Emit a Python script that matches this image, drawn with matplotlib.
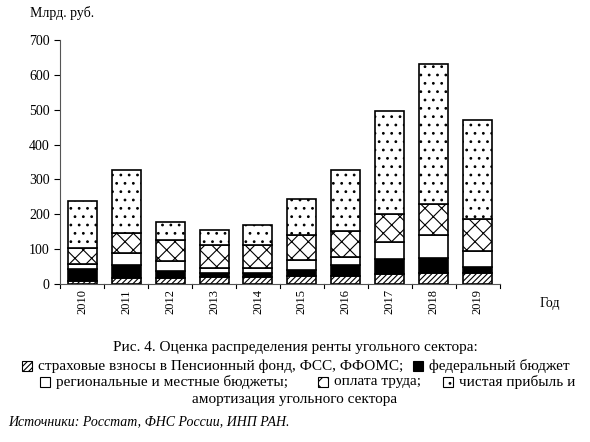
import matplotlib
matplotlib.use("Agg")
import matplotlib.pyplot as plt
from matplotlib.patches import Rectangle
import numpy as np

plt.rcParams['font.family'] = ['Liberation Serif', 'DejaVu Serif']
plt.rcParams['hatch.linewidth'] = 0.8

years = ['2010','2011','2012','2013','2014','2015','2016','2017','2018','2019']
insurance = [10, 19, 19, 22, 22, 24, 24, 28, 31, 31]
federal   = [33, 36, 19, 10, 10, 17, 31, 43, 44, 17]
regional  = [14, 34, 29, 15, 15, 29, 23, 51, 65, 48]
wages     = [46, 58, 60, 65, 65, 70, 74, 80, 90, 91]
profit    = [135, 179, 50, 44, 58, 105, 175, 293, 401, 282]

series = [insurance, federal, regional, wages, profit]
styles = [dict(facecolor='white', hatch='//////'),
          dict(facecolor='black', hatch=None),
          dict(facecolor='white', hatch=None),
          dict(facecolor='white', hatch='xx'),
          dict(facecolor='white', hatch='..')]

fig = plt.figure(figsize=(5.9, 4.42), dpi=100)
ax = fig.add_axes([0.102, 0.357, 0.745, 0.553])
x = np.arange(len(years))
bottom = np.zeros(len(years))
for vals, st in zip(series, styles):
    ax.bar(x, vals, bottom=bottom, width=0.66, edgecolor='black', linewidth=1.2, **st)
    bottom += np.array(vals)

ax.set_ylim(0, 700)
ax.set_yticks(range(0, 701, 100))
ax.set_xlim(-0.5, len(years) - 0.5)
ax.set_xticks(x)
ax.set_xticklabels(years, rotation=90, fontsize=9)
ax.tick_params(axis='y', labelsize=10, direction='out', length=4)
ax.tick_params(axis='x', direction='in', length=0)
for xx in np.arange(-0.5, len(years), 1):
    ax.plot([xx, xx], [0, -12], color='black', lw=0.8, clip_on=False)
for s in ['top', 'right']:
    ax.spines[s].set_visible(False)
ax.spines['left'].set_color('#555555')
ax.spines['bottom'].set_color('#555555')

fig.text(30/590, 1-13/442, 'Млрд. руб.', fontsize=10, va='center')
fig.text(540/590, 1-304/442, 'Год', fontsize=10, va='center')

fs = 11
def fy(py):
    return 1 - py/442
fig.text(0.5, fy(347), 'Рис. 4. Оценка распределения ренты угольного сектора:', ha='center', va='center', fontsize=fs)

def patch(px, py, **st):
    r = Rectangle((px/590, fy(py) - 5/442), 10/590, 10/442, transform=fig.transFigure,
                  edgecolor='black', linewidth=0.8, **st)
    fig.add_artist(r)

patch(22, 366, facecolor='white', hatch='//////')
fig.text(38/590, fy(366), 'страховые взносы в Пенсионный фонд, ФСС, ФФОМС;', va='center', fontsize=fs)
patch(413, 366, facecolor='black')
fig.text(429/590, fy(366), 'федеральный бюджет', va='center', fontsize=fs)

patch(40, 382, facecolor='white')
fig.text(56/590, fy(382), 'региональные и местные бюджеты;', va='center', fontsize=fs)
patch(318, 382, facecolor='white', hatch='xx')
fig.text(334/590, fy(382), 'оплата труда;', va='center', fontsize=fs)
patch(443, 382, facecolor='white', hatch='..')
fig.text(459/590, fy(382), 'чистая прибыль и', va='center', fontsize=fs)
fig.text(0.5, fy(399), 'амортизация угольного сектора', ha='center', va='center', fontsize=fs)

fig.text(8/590, fy(422), 'Источники: Росстат, ФНС России, ИНП РАН.', va='center', fontsize=10, style='italic')

fig.savefig('out.png', dpi=100)
